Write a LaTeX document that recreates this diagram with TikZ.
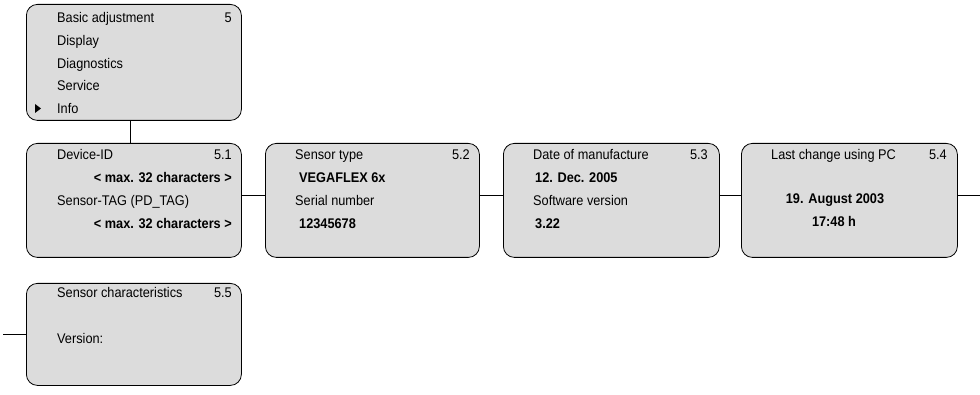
\documentclass[tikz,border=0pt]{standalone}
\usepackage{fontspec}
\setmainfont{Liberation Sans}[FakeStretch=0.91]
\begin{document}
\begin{tikzpicture}[x=1pt,y=-1pt,
  menubox/.style={draw=black,line width=0.8pt,fill=boxgray,rounded corners=11pt,inner sep=0pt},
  txt/.style={anchor=base west,inner sep=0pt,font=\fontsize{14}{16}\selectfont},
  btxt/.style={txt,font=\fontsize{14}{16}\selectfont\bfseries},
  num/.style={anchor=base east,inner sep=0pt,font=\fontsize{14}{16}\selectfont},
  conn/.style={draw=black,line width=0.8pt}]
\definecolor{boxgray}{HTML}{DCDCDC}
\useasboundingbox (0,0) rectangle (980,395);
% boxes
\node[menubox,minimum width=215pt,minimum height=116pt,anchor=north west] (top) at (26,4) {};
\node[menubox,minimum width=215pt,minimum height=114pt,anchor=north west] (b51) at (26,143) {};
\node[menubox,minimum width=214pt,minimum height=114pt,anchor=north west] (b52) at (265,143) {};
\node[menubox,minimum width=216pt,minimum height=114pt,anchor=north west] (b53) at (503,143) {};
\node[menubox,minimum width=216pt,minimum height=114pt,anchor=north west] (b54) at (741,143) {};
\node[menubox,minimum width=215pt,minimum height=102pt,anchor=north west] (b55) at (26,283) {};
% top menu
\node[txt] (t1) at (57,22.5) {Basic adjustment};
\node[num] (n5) at (232,22.5) {5};
\node[txt] (t2) at (57,45.5) {Display};
\node[txt] (t3) at (57,68.3) {Diagnostics};
\node[txt] (t4) at (57,91) {Service};
\node[txt] (t5) at (57,113.5) {Info};
\fill (35,104) -- (41,108.5) -- (35,113) -- cycle;
% 5.1
\node[txt] (d1) at (57,160) {Device-ID};
\node[num] (n51) at (232,160) {5.1};
\node[btxt,anchor=base east] (d2) at (232,183) {< max. 32 characters >};
\node[txt] (d3) at (57,206) {Sensor-TAG (PD\_TAG)};
\node[btxt,anchor=base east] (d4) at (232,229) {< max. 32 characters >};
% 5.2
\node[txt] (s1) at (295,160) {Sensor type};
\node[num] (n52) at (470,160) {5.2};
\node[btxt] (s2) at (299,183) {VEGAFLEX 6x};
\node[txt] (s3) at (295,206) {Serial number};
\node[btxt] (s4) at (299,229) {12345678};
% 5.3
\node[txt] (m1) at (533,160) {Date of manufacture};
\node[num] (n53) at (708,160) {5.3};
\node[btxt] (m2) at (535,183) {12. Dec. 2005};
\node[txt] (m3) at (533,206) {Software version};
\node[btxt] (m4) at (535,229) {3.22};
% 5.4
\node[txt] (l1) at (771,160) {Last change using PC};
\node[num] (n54) at (947,160) {5.4};
\node[btxt,anchor=base] (l2) at (835,204) {19. August 2003};
\node[btxt,anchor=base] (l3) at (834,227) {17:48 h};
% 5.5
\node[txt] (c1) at (57,297.5) {Sensor characteristics};
\node[num] (n55) at (232,297.5) {5.5};
\node[txt] (c2) at (57,344) {Version:};
% connectors
\coordinate (vx) at (130,0);
\coordinate (row) at (0,195);
\coordinate (outR) at (980,195);
\coordinate (inL) at (3,334);
\draw[conn] (top.south -| vx) -- (b51.north -| vx);
\draw[conn] (b51.east |- row) -- (b52.west |- row);
\draw[conn] (b52.east |- row) -- (b53.west |- row);
\draw[conn] (b53.east |- row) -- (b54.west |- row);
\draw[conn] (b54.east |- row) -- (outR);
\draw[conn] (inL) -- (b55.west |- inL);
\end{tikzpicture}
\end{document}
